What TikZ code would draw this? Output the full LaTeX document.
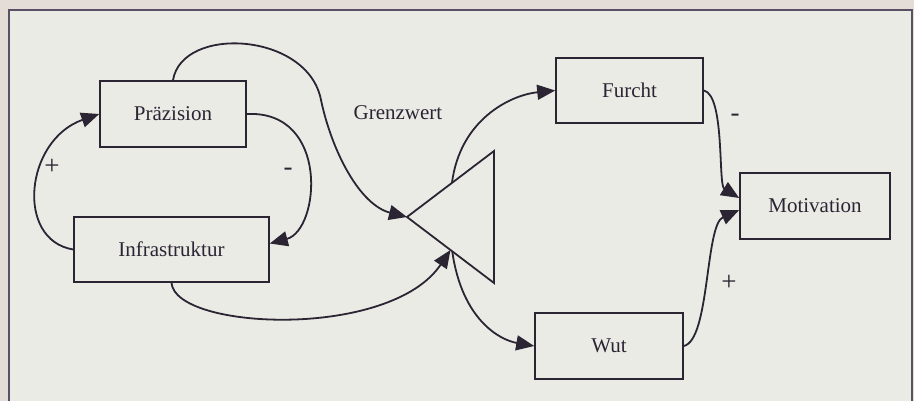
\documentclass[tikz,border=0pt]{standalone}
\usepackage{fontspec}
\setmainfont{Liberation Serif}
\usetikzlibrary{arrows.meta,calc}
\definecolor{ink}{HTML}{2B2433}
\definecolor{paper}{HTML}{EBEBE6}
\definecolor{margin}{HTML}{E4DCD7}
\definecolor{framec}{HTML}{5A5066}
\begin{document}
\begin{tikzpicture}[x=1pt,y=-1pt,
  box/.style={draw=ink,line width=1.6pt,fill=paper,inner sep=0pt,text=ink,
    font=\fontsize{21}{25}\selectfont},
  lbl/.style={text=ink,font=\fontsize{21}{25}\selectfont,inner sep=0pt},
  sgn/.style={text=ink,font=\fontsize{27}{30}\selectfont,inner sep=0pt},
  conn/.style={draw=ink,line width=1.8pt},
  arr/.style={conn,-{Triangle[length=18pt,width=15pt]}}]
\useasboundingbox (0,0) rectangle (914,401);
\fill[margin] (0,0) rectangle (914,401);
\fill[paper] (9,10) rectangle (912,401);
\draw[framec,line width=1.5pt] (9,401) -- (9,10) -- (912,10) -- (912,401);
% boxes
\node[box,minimum width=146pt,minimum height=66pt] (prz) at (173,114) {Präzision};
\node[box,minimum width=195pt,minimum height=65pt] (inf) at (171.5,249.5) {Infrastruktur};
\node[box,minimum width=147pt,minimum height=65pt] (fur) at (629.5,90.5) {Furcht};
\node[box,minimum width=150pt,minimum height=66pt] (mot) at (815,206) {Motivation};
\node[box,minimum width=148pt,minimum height=66pt] (wut) at (609,346) {Wut};
% triangle
\coordinate (tA) at (407,217);
\coordinate (tT) at (494,151);
\coordinate (tB) at (494,283);
\draw[conn,line join=miter] (tA) -- (tT) -- (tB) -- cycle;
\coordinate (tu) at ($(tA)!0.517!(tT)$);
\coordinate (tl) at ($(tA)!0.50!(tB)$);
\coordinate (tl2) at ($(tA)!0.52!(tB)$);
\coordinate (m1) at ([yshift=8pt]mot.west);
\coordinate (m2) at ([yshift=-4pt]mot.west);
% connectors
\draw[arr] (inf.west) .. controls (15,240) and (25,140) .. (prz.west);
\draw[arr] (prz.east) .. controls (330,110) and (320,230) .. ([yshift=6pt]inf.east);
\draw[arr] (prz.north) .. controls (182,25) and (308,32) .. (321,100)
   .. controls (332,152) and (360,205) .. (tA);
\draw[arr] (inf.south) .. controls (175,330) and (390,340) .. (tl);
\draw[arr] (tu) .. controls (460,120) and (510,95) .. (fur.west);
\draw[arr] (tl2) .. controls (462,320) and (500,340) .. (wut.west);
\draw[arr] (fur.east) .. controls (725,95) and (718,185) .. (m1);
\draw[arr] (wut.east) .. controls (710,340) and (705,225) .. (m2);
% labels
\node[sgn] (lp1) at (52,167) {+};
\node[sgn] (lm1) at (288,172) {-};
\node[lbl] (lg) at (398,113) {Grenzwert};
\node[sgn] (lm2) at (735,118) {-};
\node[sgn] (lp2) at (729,283) {+};
\end{tikzpicture}
\end{document}
